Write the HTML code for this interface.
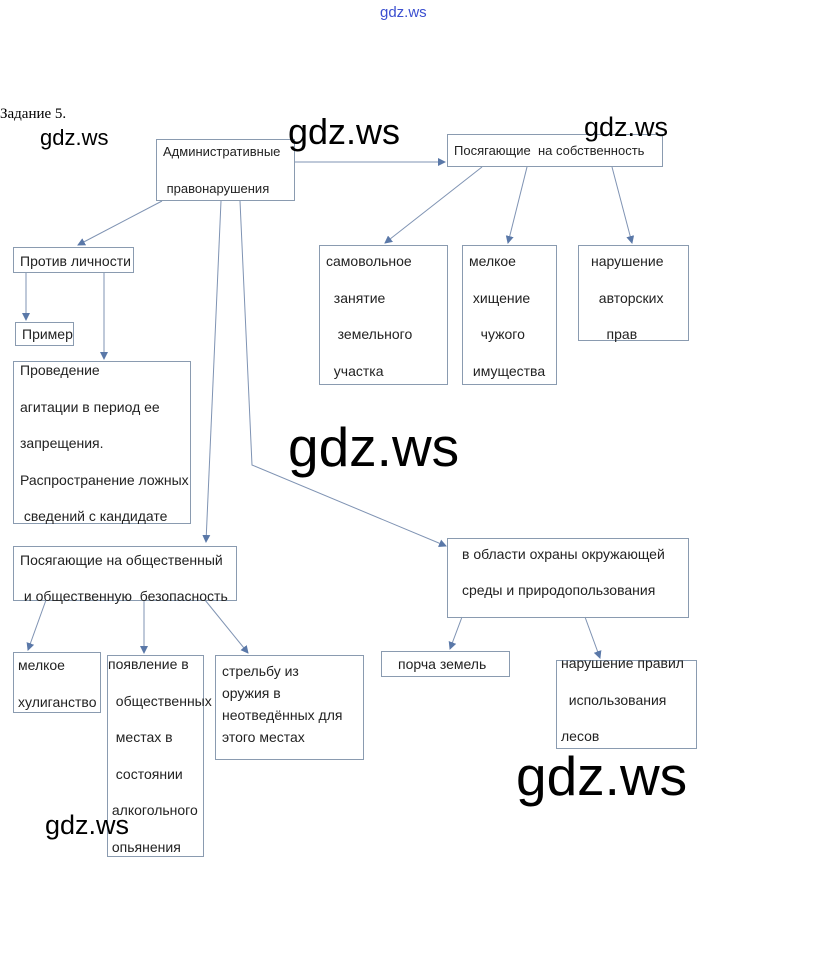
<!DOCTYPE html>
<html><head><meta charset="utf-8"><style>
body{margin:0;width:813px;height:968px;background:#fff;position:relative;overflow:hidden;font-family:"Liberation Sans","DejaVu Sans",sans-serif}
.b{position:absolute;border:1px solid #8a9bb0;box-sizing:border-box;font-size:14px;color:#222;line-height:36.5px;padding-left:6px;white-space:nowrap;background:transparent}
.b>div{position:relative}
.w{position:absolute;color:#000;white-space:nowrap;line-height:1}
</style></head><body>
<svg width="813" height="968" style="position:absolute;left:0;top:0">
<defs><marker id="a" markerWidth="8" markerHeight="8" refX="7" refY="4" orient="auto"><path d="M0,0L8,4L0,8z" fill="#5a78a8"/></marker></defs>
<g stroke="#7f93b3" stroke-width="1" fill="none" marker-end="url(#a)">
<line x1="294" y1="162" x2="445" y2="162"/>
<line x1="162" y1="201" x2="78" y2="245"/>
<line x1="26" y1="272" x2="26" y2="320"/>
<line x1="104" y1="272" x2="104" y2="359"/>
<line x1="221" y1="201" x2="206" y2="542"/>
<polyline points="240,201 252,465 446,546"/>
<line x1="482" y1="167" x2="385" y2="243"/>
<line x1="527" y1="167" x2="508" y2="243"/>
<line x1="612" y1="167" x2="632" y2="243"/>
<line x1="46" y1="600" x2="28" y2="650"/>
<line x1="144" y1="600" x2="144" y2="653"/>
<line x1="205" y1="600" x2="248" y2="653"/>
<line x1="462" y1="617" x2="450" y2="649"/>
<line x1="585" y1="617" x2="600" y2="658"/>
</g></svg>
<div class="w" style="left:380px;top:5px;font-size:15px;color:#3b4fd0">gdz.ws</div>
<div style="position:absolute;left:0;top:106px;font-family:'Liberation Serif',serif;font-size:15px">Задание 5.</div>
<div class="b" style="left:156px;top:139px;width:139px;height:62px;font-size:13px"><div style="top:-6px">Административные<br>&nbsp;правонарушения</div></div>
<div class="b" style="left:447px;top:134px;width:216px;height:33px;line-height:32px;font-size:13px"><div>Посягающие&nbsp; на собственность</div></div>
<div class="b" style="left:13px;top:247px;width:121px;height:26px;line-height:26px"><div>Против личности</div></div>
<div class="b" style="left:15px;top:322px;width:59px;height:24px;line-height:23px"><div>Пример</div></div>
<div class="b" style="left:13px;top:361px;width:178px;height:163px"><div style="top:-10px">Проведение<br>агитации в период ее<br>запрещения.<br>Распространение ложных<br>&nbsp;сведений с кандидате</div></div>
<div class="b" style="left:319px;top:245px;width:129px;height:140px"><div style="top:-3px">самовольное<br>&nbsp;&nbsp;занятие<br>&nbsp;&nbsp;&nbsp;земельного<br>&nbsp;&nbsp;участка</div></div>
<div class="b" style="left:462px;top:245px;width:95px;height:140px"><div style="top:-3px">мелкое<br>&nbsp;хищение<br>&nbsp;&nbsp;&nbsp;чужого<br>&nbsp;имущества</div></div>
<div class="b" style="left:578px;top:245px;width:111px;height:96px;padding-left:12px"><div style="top:-3px">нарушение<br>&nbsp;&nbsp;авторских<br>&nbsp;&nbsp;&nbsp;&nbsp;прав</div></div>
<div class="b" style="left:13px;top:546px;width:224px;height:55px;line-height:36px"><div style="top:-5px">Посягающие на общественный<br>&nbsp;и общественную&nbsp; безопасность</div></div>
<div class="b" style="left:447px;top:538px;width:242px;height:80px;padding-left:14px;line-height:36px"><div style="top:-3px">в области охраны окружающей<br>среды и природопользования</div></div>
<div class="b" style="left:13px;top:652px;width:88px;height:61px;padding-left:4px"><div style="top:-6px">мелкое<br>хулиганство</div></div>
<div class="b" style="left:107px;top:655px;width:97px;height:202px;padding-left:0"><div style="top:-10px">появление в<br>&nbsp;&nbsp;общественных<br>&nbsp;&nbsp;местах в<br>&nbsp;&nbsp;состоянии<br>&nbsp;алкогольного<br>&nbsp;опьянения</div></div>
<div class="b" style="left:215px;top:655px;width:149px;height:105px;line-height:22px;padding-top:4px"><div>стрельбу из<br>оружия в<br>неотведённых для<br>этого местах</div></div>
<div class="b" style="left:381px;top:651px;width:129px;height:26px;line-height:24px;padding-left:16px"><div>порча земель</div></div>
<div class="b" style="left:556px;top:660px;width:141px;height:89px;padding-left:4px;line-height:36.5px"><div style="top:-16px">нарушение правил<br>&nbsp;&nbsp;использования<br>лесов</div></div>
<div class="w" style="left:40px;top:127px;font-size:22px">gdz.ws</div>
<div class="w" style="left:288px;top:114px;font-size:36px">gdz.ws</div>
<div class="w" style="left:584px;top:114px;font-size:27px">gdz.ws</div>
<div class="w" style="left:288px;top:420px;font-size:55px">gdz.ws</div>
<div class="w" style="left:516px;top:749px;font-size:55px">gdz.ws</div>
<div class="w" style="left:45px;top:812px;font-size:27px">gdz.ws</div>
</body></html>
